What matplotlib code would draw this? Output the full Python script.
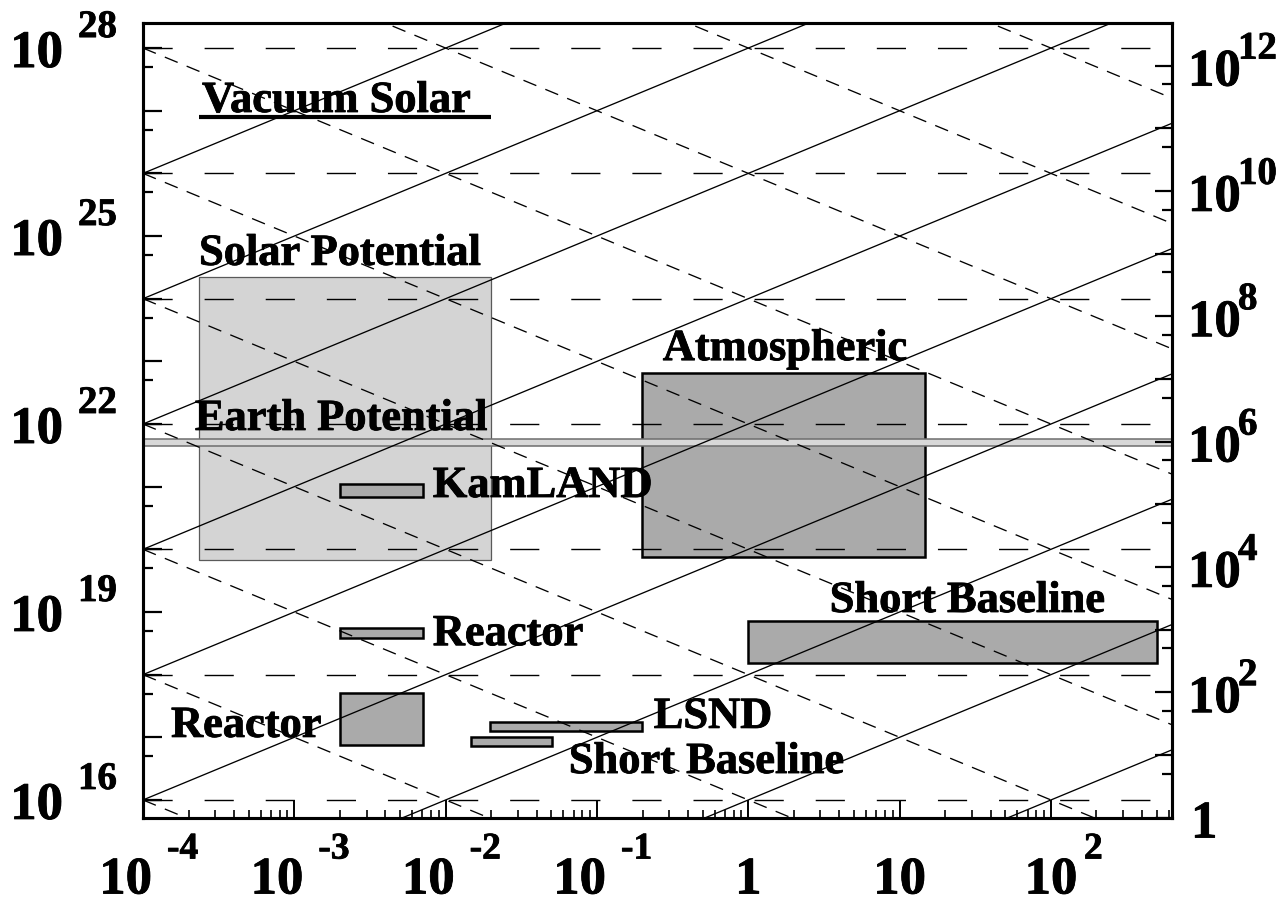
# Mapa L/E de experimentos de oscilacion de neutrinos (estilo PAW)
import numpy as np
import matplotlib
matplotlib.use("Agg")
import matplotlib.pyplot as plt
from matplotlib.patches import Rectangle
from matplotlib.ticker import LogLocator, FixedLocator, NullFormatter
import matplotlib.transforms as mtransforms
import matplotlib.patheffects as pe

plt.rcParams['font.family'] = ['Liberation Serif', 'DejaVu Serif']
plt.rcParams['font.weight'] = 'bold'
plt.rcParams['lines.scale_dashes'] = False

# ---- datos (todo en log10) ----
x_range = (-4.0, 2.8)            # eje x
y_range = (15.72, 28.40)         # eje izquierdo
right_shift = 15.72              # derecho = izquierdo / 10**right_shift

x_ticks = [-4, -3, -2, -1, 0, 1, 2]
y_left_labels = [16, 19, 22, 25, 28]
y_right_labels = [0, 2, 4, 6, 8, 10, 12]

grid_h = [16, 18, 20, 22, 24, 26, 28]                 # lineas horizontales
solid_c = [14, 16, 18, 20, 22, 24, 26, 28, 30]        # y = 10^c * x
dashed_c = [12, 14, 16, 18, 20, 22, 24, 26, 28, 30]   # y = 10^c / x

# cajas: nombre, x0, x1, y0, y1
box_name = ["Solar Potential", "Atmospheric", "KamLAND", "Reactor", "Reactor",
            "LSND", "Short Baseline", "Short Baseline"]
box_x0 = [-3.63, -0.70, -2.70, -2.70, -2.70, -1.71, -1.83, 0.00]
box_x1 = [-1.70, 1.165, -2.15, -2.15, -2.15, -0.70, -1.30, 2.70]
box_y0 = [19.83, 19.88, 20.835, 18.59, 16.877, 17.10, 16.862, 18.19]
box_y1 = [24.35, 22.81, 21.043, 18.745, 17.707, 17.245, 17.006, 18.857]

vacuum_x = (-3.63, -1.70)
vacuum_y = 26.90
earth_y = (21.655, 21.755)

# textos
label_text = ["Vacuum Solar", "Solar Potential", "Earth Potential", "KamLAND",
              "Atmospheric", "Short Baseline", "Reactor", "Reactor", "LSND",
              "Short Baseline"]
label_x = [-3.61, -3.63, -3.657, -2.085, -0.565, 0.538, -2.085, -3.815, -0.625, -1.186]
label_y = [26.98, 24.54, 21.905, 20.835, 23.02, 19.0, 18.47, 17.006, 17.15, 16.43]

# trazo extra para engrosar las letras (como la fuente de PAW)
thick = [pe.withStroke(linewidth=0.6, foreground='black')]

# ---- figura ----
W, H = 1287, 902
fig = plt.figure(figsize=(W / 100, H / 100), dpi=100)
L, R, T, B = 143, 1172, 23, 817.5
ax = fig.add_axes([L / W, 1 - B / H, (R - L) / W, (B - T) / H])
ax.set_xscale('log')
ax.set_yscale('log')
ax.set_xlim(10 ** x_range[0], 10 ** x_range[1])
ax.set_ylim(10 ** y_range[0], 10 ** y_range[1])

# cajas
for i, name in enumerate(box_name):
    x0, x1 = 10 ** box_x0[i], 10 ** box_x1[i]
    y0, y1 = 10 ** box_y0[i], 10 ** box_y1[i]
    if name == "Solar Potential":
        p = Rectangle((x0, y0), x1 - x0, y1 - y0, fc='#d4d4d4', ec='#5a5a5a', lw=0.9, zorder=1)
    else:
        p = Rectangle((x0, y0), x1 - x0, y1 - y0, fc='#aaaaaa', ec='black', lw=1.8, zorder=1)
    ax.add_patch(p)

# banda Earth Potential
ax.axhspan(10 ** earth_y[0], 10 ** earth_y[1], fc='#d8d8d8', ec='#6e6e6e', lw=1.1, zorder=2)
# linea Vacuum Solar
ax.hlines(10 ** vacuum_y, 10 ** vacuum_x[0], 10 ** vacuum_x[1], colors='black', lw=3.0, zorder=4)

# rejilla
for k in grid_h:
    ax.axhline(10 ** k, color='black', lw=1.0, ls=(0, (21, 23)), zorder=3)
xs = np.array([10 ** x_range[0], 10 ** x_range[1]])
for c in solid_c:
    ax.plot(xs, 10.0 ** c * xs, color='black', lw=0.95, zorder=3)
for c in dashed_c:
    ax.plot(xs, 10.0 ** c / xs, color='black', lw=0.95, ls=(0, (10, 7)), zorder=3)

# textos internos
for t, lx, ly in zip(label_text, label_x, label_y):
    ax.text(10 ** lx, 10 ** ly, t, fontsize=32, fontweight='bold', ha='left',
            va='baseline', zorder=5, path_effects=thick)

# ---- ejes ----
for s in ax.spines.values():
    s.set_linewidth(2.2)
ax.xaxis.set_major_locator(FixedLocator([10.0 ** k for k in range(-4, 3)]))
ax.xaxis.set_minor_locator(LogLocator(base=10, subs=range(2, 10), numticks=20))
ax.yaxis.set_major_locator(FixedLocator([10.0 ** k for k in range(16, 29)]))
ax.yaxis.set_minor_locator(FixedLocator([5 * 10.0 ** k for k in range(15, 28)]))
ax.xaxis.set_major_formatter(NullFormatter())
ax.xaxis.set_minor_formatter(NullFormatter())
ax.yaxis.set_major_formatter(NullFormatter())
ax.yaxis.set_minor_formatter(NullFormatter())
ax.tick_params(axis='x', which='major', direction='in', length=13, width=1.4, top=False)
ax.tick_params(axis='x', which='minor', direction='in', length=6, width=1.2, top=False)
ax.tick_params(axis='y', which='major', direction='in', length=14, width=1.6, right=False)
ax.tick_params(axis='y', which='minor', direction='in', length=7, width=1.6, right=False)

ax2 = ax.twinx()
ax2.set_yscale('log')
ax2.set_ylim(10 ** (y_range[0] - right_shift), 10 ** (y_range[1] - right_shift))
ax2.yaxis.set_major_locator(FixedLocator([10.0 ** k for k in range(0, 13)]))
ax2.yaxis.set_minor_locator(FixedLocator([5 * 10.0 ** k for k in range(-1, 13)]))
ax2.yaxis.set_major_formatter(NullFormatter())
ax2.yaxis.set_minor_formatter(NullFormatter())
ax2.tick_params(axis='y', which='major', direction='in', length=12, width=1.6)
ax2.tick_params(axis='y', which='minor', direction='in', length=7, width=1.6)
for s in ax2.spines.values():
    s.set_linewidth(2.2)

big, small = 38, 27


def etiqueta(axis, txt, xy, trans, off, ha, size):
    axis.annotate(txt, xy, xycoords=trans, xytext=off, textcoords='offset pixels',
                  ha=ha, va='baseline', fontsize=size, annotation_clip=False,
                  path_effects=thick)


# etiquetas eje x
tx = mtransforms.blended_transform_factory(ax.transData, ax.transAxes)
for k in x_ticks:
    xv = 10.0 ** k
    if k == 0 or k == 1:
        etiqueta(ax, "1" if k == 0 else "10", (xv, 0), tx, (0, -76), 'center', big)
    elif k < 0:
        etiqueta(ax, "10", (xv, 0), tx, (9, -76), 'right', big)
        etiqueta(ax, str(k), (xv, 0), tx, (24, -41), 'left', small)
    else:
        etiqueta(ax, "10", (xv, 0), tx, (0, -76), 'center', big)
        etiqueta(ax, str(k), (xv, 0), tx, (33, -41), 'left', small)

# etiquetas eje izquierdo
ty = mtransforms.blended_transform_factory(ax.transAxes, ax.transData)
for k in y_left_labels:
    yv = 10.0 ** k
    etiqueta(ax, "10", (0, yv), ty, (-80, -19), 'right', big)
    etiqueta(ax, str(k), (0, yv), ty, (-65, 11), 'left', small + 1)

# etiquetas eje derecho
ty2 = mtransforms.blended_transform_factory(ax2.transAxes, ax2.transData)
for k in y_right_labels:
    yv = 10.0 ** k
    if k == 0:
        etiqueta(ax2, "1", (1, yv), ty2, (19, -20), 'left', big)
    else:
        etiqueta(ax2, "10", (1, yv), ty2, (16, -20), 'left', big)
        etiqueta(ax2, str(k), (1, yv), ty2, (66, 7), 'left', small + 1)

fig.savefig("out.png", dpi=100)
